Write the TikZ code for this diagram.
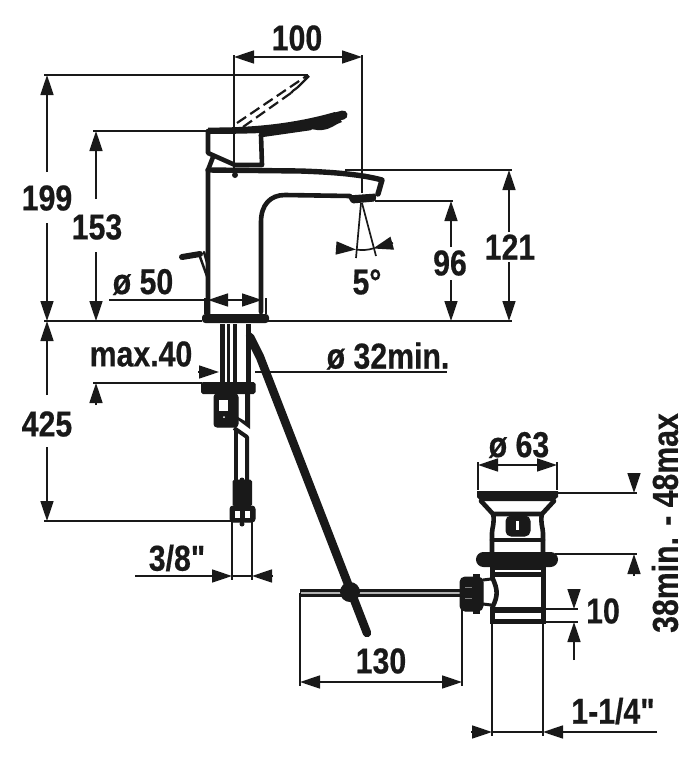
\documentclass[tikz,border=0pt]{standalone}
\usepackage{fontspec}
\newfontfamily\dimfont{Liberation Sans}[FakeStretch=0.84, FakeBold=0.5]
\usetikzlibrary{arrows.meta}
\tikzset{
  dimline/.style={line width=1.7pt, color=black!90},
  dimtip/.style={dimline, -{Triangle[length=20pt,width=13pt]}},
  dimboth/.style={dimline, {Triangle[length=20pt,width=13pt]}-{Triangle[length=20pt,width=13pt]}},
  body/.style={line width=4.6pt, color=black!90, line join=round, line cap=round},
  heavy/.style={fill=black!90, draw=black!90, line width=1pt, rounded corners=1.5pt},
  lbl/.style={font=\dimfont\fontsize{36}{36}\bfseries\selectfont, inner sep=0pt, text=black!90},
}
\begin{document}
\begin{tikzpicture}[x=1pt, y=-1pt]
\useasboundingbox (0,0) rectangle (700,763);
% dimension texts
\node (t100) [lbl] at (297,38) {100};
\node (t199) [lbl] at (47,198) {199};
\node (t153) [lbl] at (97,227) {153};
\node (t50) [lbl] at (143,282) {ø 50};
\node (t40) [lbl] at (141,354) {max.40};
\node (t425) [lbl] at (47,424) {425};
\node (t32) [lbl] at (388,356) {ø 32min.};
\node (t96) [lbl] at (450,263) {96};
\node (t121) [lbl] at (510,247) {121};
\node (t5) [lbl] at (367,282) {5°};
\node (t38) [lbl] at (177,558) {3/8"};
\node (t63) [lbl] at (519,445) {ø 63};
\node (t10) [lbl] at (603,611) {10};
\node (t130) [lbl] at (381,661) {130};
\node (t114) [lbl] at (613,711) {1-1/4"};
\node (t48) [lbl, rotate=90] at (665,523) {38min. - 48max};
% extension lines
\draw [dimline] (44,75) -- (308,75);
\draw [dimline] (93,131) -- (208,131);
\draw [dimline] (44,321) -- (202,321);
\draw [dimline] (268,321) -- (512,321);
\draw [dimline] (44,521) -- (232,521);
\draw [dimline] (93,383) -- (202,383);
\draw [dimline] (255,372) -- (447,372);
\draw [dimline] (345,170) -- (512,170);
\draw [dimline] (375,201) -- (453,201);
\draw [dimline] (234,55) -- (234,175);
\draw [dimline] (362,55) -- (362,193);
\draw [dimline] (205,298) -- (205,314);
\draw [dimline] (266,298) -- (266,314);
\draw [dimline] (232,522) -- (232,580);
\draw [dimline] (252,522) -- (252,580);
\draw [dimline] (300,593) -- (300,686);
\draw [dimline] (462,610) -- (462,686);
\draw [dimline] (478,462) -- (478,490);
\draw [dimline] (557,462) -- (557,490);
\draw [dimline] (555,493) -- (637,493);
\draw [dimline] (555,554) -- (637,554);
\draw [dimline] (546,609) -- (578,609);
\draw [dimline] (546,622) -- (578,622);
\draw [dimline] (492,622) -- (492,736);
\draw [dimline] (543,622) -- (543,736);
% dimension arrows
\draw [dimboth] (234,57) -- (362,57);
\draw [dimtip] (47,172) -- (47,75);
\draw [dimtip] (47,223) -- (47,321);
\draw [dimtip] (96,199) -- (96,131);
\draw [dimtip] (96,252) -- (96,321);
\draw [dimtip] (47,395) -- (47,321);
\draw [dimtip] (47,447) -- (47,521);
\draw [dimline] (109,300) -- (207,300);
\draw [dimboth] (208,300) -- (262,300);
\draw [dimtip] (96,405) -- (96,383);
\draw [dimtip] (198,372) -- (219,372);
\draw [dimtip] (451,247) -- (451,201);
\draw [dimtip] (451,280) -- (451,321);
\draw [dimtip] (509,232) -- (509,170);
\draw [dimtip] (509,262) -- (509,321);
\draw [dimtip] (135,576) -- (232,576);
\draw [dimtip] (273,576) -- (252,576);
\draw [dimline] (232,576) -- (252,576);
\draw [dimboth] (300,682) -- (462,682);
\draw [dimboth] (478,465) -- (557,465);
\draw [dimtip] (634,473) -- (634,493);
\draw [dimtip] (634,576) -- (634,554);
\draw [dimtip] (574,589) -- (574,609);
\draw [dimtip] (574,660) -- (574,622);
\draw [dimtip] (471,732) -- (492,732);
\draw [dimtip] (657,732) -- (543,732);
\draw [dimline] (492,732) -- (543,732);
% spray angle
\draw [dimline] (361,203) -- (356,258);
\draw [dimline] (362,203) -- (376,256);
\draw [dimtip] (336,248) -- (356,249.5);
\draw [dimtip] (393,243) -- (373,248.5);
\draw [dimline] (356,249.5) .. controls (362,250.5) and (368,250) .. (373,248.5);
% handle, raised position
\draw [dimline, line width=2.2pt, dash pattern=on 11pt off 5pt] (237,123) -- (308,75);
\draw [dimline, line width=2.2pt, dash pattern=on 11pt off 5pt] (243,127) -- (291,93);
\draw [dimline, line width=2.2pt] (291,93) .. controls (295,88) and (296,90) .. (298,87) -- (309,76);
% handle
\fill [black!90] (208,127.5) .. controls (260,128) and (300,122) .. (335,112) -- (342,122) .. controls (335,124) and (332,129) .. (322,130) .. controls (315,131) and (316,128) .. (305,130) .. controls (280,133) and (240,134) .. (208,134) -- cycle;
\draw [body, line width=9pt] (328,119) -- (343,115);
\draw [body] (261,135) -- (310,128);
\draw [body] (208,131) -- (208,153) -- (235,165) -- (262,165) -- (261,135);
% mixer body and spout
\draw [body] (208,318) -- (208,170) -- (213,157);
\draw [body, line width=5.4pt] (208,170) -- (300,171) .. controls (330,172) and (360,174) .. (382,180) -- (378,194);
\draw [body] (261,312) -- (261,222) .. controls (261,205) and (270,195) .. (285,195) -- (350,196);
\draw [heavy] (348,196) -- (376,194) -- (375,201) -- (352,203) -- cycle;
\fill [black!90] (235,175) circle (3pt);
% lift rod
\draw [body, line width=6pt] (182,257) -- (200,254);
\draw [body, line width=2.5pt] (199,254) -- (208,279);
\draw [body, line width=2.5pt] (204,252) -- (208,266);
% base flange
\draw [heavy, line width=2pt, rounded corners=2.5pt] (203,315) rectangle (268,322);
% tubes under the deck
\fill [black!90] (220,324) rectangle (225,382);
\fill [black!90] (227,324) rectangle (230,382);
\fill [black!90] (233,324) rectangle (237,382);
\fill [black!90] (246,324) rectangle (251,382);
% lock nut and valve
\draw [heavy] (201.5,382.5) rectangle (255,393.5);
\draw [heavy, rounded corners=3pt] (214,394) rectangle (238,427);
\fill [white] (219,400) rectangle (228,411);
\fill [white] (224,417) circle (1pt);
\fill [black!90] (245,394) -- (250,394) -- (250,429) -- (238,420) -- (238,417) -- (245,421) -- cycle;
\draw [body, line width=4pt, line cap=butt] (235.5,430) -- (235.5,480);
\draw [body, line width=4pt, line cap=butt] (234,428) -- (247,437) -- (247,480);
% hose connector
\draw [heavy] (233,480) rectangle (251.5,506);
\draw [heavy, rounded corners=3pt] (230,506) rectangle (255,522);
\fill [white] (235,511) rectangle (240,518);
\fill [white] (245,511) rectangle (250,518);
\fill [black!90] (242,524) circle (2.5pt);
\fill [black!90] (242,480) circle (2.5pt);
% drain rod
\draw [body, line width=8.5pt] (250,337) -- (260,357) -- (367,633);
\draw [body, line width=8pt, line cap=butt] (300,592.5) -- (462,592.5);
\draw [color=black!30, line width=2pt] (301,592.5) -- (462,592.5);
\fill [black!90] (350,592) circle (10pt);
% waste plug
\fill [black!90] (477,491) -- (558,491) -- (558,497) -- (553,501) -- (481,501) -- (477,497) -- cycle;
\draw [body] (481,501) -- (493,514) -- (542,514) -- (554,501);
\draw [body] (493,514) .. controls (495,522) and (492,528) .. (492,533) -- (492,554);
\draw [body] (542,514) .. controls (540,522) and (543,528) .. (543,533) -- (543,554);
\draw [body] (492,540) -- (543,540);
\draw [heavy, rounded corners=5pt] (506,516) rectangle (530,536);
\fill [white] (516,521) rectangle (519,530);
\draw [heavy, line width=2pt, rounded corners=6.5pt] (477,553) rectangle (557,566);
\fill [black!90] (490,566) rectangle (546,570);
\fill [black!90] (490,572) rectangle (546,577);
\draw [body, line cap=butt] (492.5,570) -- (492.5,578) .. controls (498,590) and (498,596) .. (492.5,607) -- (492.5,623);
\draw [body, line cap=butt] (543.5,566) -- (543.5,623);
\fill [black!90] (490,607) rectangle (546,613);
\fill [black!90] (490,619) rectangle (546,623.5);
% outlet nut and elbow
\draw [heavy, rounded corners=5pt] (460,577) rectangle (483,611);
\fill [black!90] (473,574) rectangle (480,614);
\draw [color=black!50, line width=1pt] (465,587) -- (472,587);
\draw [color=black!50, line width=1pt] (465,598) -- (472,598);
\draw [body, line width=3pt] (483,580) -- (491,579);
\draw [body, line width=3pt] (483,604) -- (491,605);
\end{tikzpicture}
\end{document}
